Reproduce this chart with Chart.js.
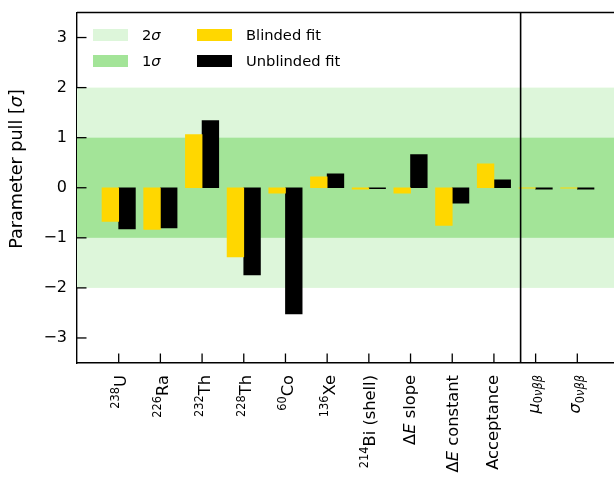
<!DOCTYPE html>
<html>
<head>
<meta charset="utf-8">
<script src="https://cdn.jsdelivr.net/npm/chart.js@4.4.0/dist/chart.umd.min.js"></script>
<style>
  html, body { margin: 0; padding: 0; background: #fff; }
  #wrap { width: 614px; height: 477px; }
</style>
</head>
<body>
<div id="wrap"><canvas id="pulls" width="614" height="477"></canvas></div>
<script>
// Метки параметров по оси X: список кусочков [текст, стиль]
// n - обычный, i - курсив, sup - верхний индекс, sub / subi - нижний индекс (subi - курсивом)
const categoryLabels = [
    [['238', 'sup'], ['U', 'n']],
    [['226', 'sup'], ['Ra', 'n']],
    [['232', 'sup'], ['Th', 'n']],
    [['228', 'sup'], ['Th', 'n']],
    [['60', 'sup'], ['Co', 'n']],
    [['136', 'sup'], ['Xe', 'n']],
    [['214', 'sup'], ['Bi (shell)', 'n']],
    [['Δ', 'n'], ['E', 'i'], [' slope', 'n']],
    [['Δ', 'n'], ['E', 'i'], [' constant', 'n']],
    [['Acceptance', 'n']],
    [['μ', 'i'], ['0', 'sub'], ['νββ', 'subi']],
    [['σ', 'i'], ['0', 'sub'], ['νββ', 'subi']]
];

// Значения пулов (в единицах сигма)
const blindedPulls = [-0.67, -0.83, 1.06, -1.38, -0.11, 0.22, -0.03, -0.11, -0.75, 0.48, -0.01, -0.01];
const unblindedPulls = [-0.82, -0.80, 1.34, -1.74, -2.52, 0.28, -0.02, 0.66, -0.31, 0.16, -0.03, -0.03];

// Отметки оси Y
const yTicks = [-3, -2, -1, 0, 1, 2, 3];

// Полосы 2σ и 1σ
const sigmaBands = [2, 1];
const bandColors = ['#ddf6da', '#a3e498'];

// Вертикальная линия-разделитель (между систематикой и сигналом)
const separatorAt = 9.64;

const FONT = '"DejaVu Sans"';

function segSize(style, size) {
    return (style === 'sup' || style === 'sub' || style === 'subi') ? size * 0.7 : size;
}

function segFont(style, size) {
    const italic = (style === 'i' || style === 'subi') ? 'italic ' : '';
    return italic + segSize(style, size) + 'px ' + FONT;
}

function segShift(style, size) {
    if (style === 'sup') return size * 0.42;
    if (style === 'sub' || style === 'subi') return -size * 0.2;
    return 0;
}

function richWidth(ctx, parts, size) {
    let w = 0;
    parts.forEach(p => {
        ctx.font = segFont(p[1], size);
        w += ctx.measureText(p[0]).width;
    });
    return w;
}

// Рисует текст с индексами, базовая линия y, начало x
function drawRich(ctx, parts, size, x, y) {
    let cx = x;
    ctx.textAlign = 'left';
    ctx.textBaseline = 'alphabetic';
    parts.forEach(p => {
        ctx.font = segFont(p[1], size);
        ctx.fillText(p[0], cx, y - segShift(p[1], size));
        cx += ctx.measureText(p[0]).width;
    });
}

// Вертикальные размеры подписи (для центрирования под отметкой)
function richExtent(parts, size) {
    let top = 0;
    let bottom = 0;
    parts.forEach(p => {
        const s = segSize(p[1], size);
        const sh = segShift(p[1], size);
        top = Math.max(top, sh + 0.74 * s);
        const desc = /[pgyq()\[\]βμ]/.test(p[0]) ? 0.23 * s : 0;
        bottom = Math.max(bottom, -sh + desc);
    });
    return {top, bottom};
}

const pullsPlugin = {
    id: 'pulls',
    beforeDatasetsDraw(chart) {
        const {ctx, chartArea} = chart;
        const yScale = chart.scales.y;
        ctx.save();
        sigmaBands.forEach((b, i) => {
            const y1 = yScale.getPixelForValue(b);
            const y2 = yScale.getPixelForValue(-b);
            ctx.fillStyle = bandColors[i];
            ctx.fillRect(chartArea.left, y1, chartArea.right - chartArea.left, y2 - y1);
        });
        ctx.restore();
    },
    afterDraw(chart) {
        const {ctx, chartArea} = chart;
        const xScale = chart.scales.x;
        const yScale = chart.scales.y;
        ctx.save();
        ctx.strokeStyle = '#000';
        ctx.fillStyle = '#000';

        // разделитель
        const sx = xScale.getPixelForValue(separatorAt);
        ctx.lineWidth = 1.6;
        ctx.beginPath();
        ctx.moveTo(sx, chartArea.top);
        ctx.lineTo(sx, chartArea.bottom);
        ctx.stroke();

        // верхняя рамка
        ctx.lineWidth = 1.3;
        ctx.beginPath();
        ctx.moveTo(chartArea.left, chartArea.top);
        ctx.lineTo(chartArea.right, chartArea.top);
        ctx.stroke();

        // отметки внутрь
        ctx.lineWidth = 1.3;
        yTicks.forEach(v => {
            const y = yScale.getPixelForValue(v);
            ctx.beginPath();
            ctx.moveTo(chartArea.left, y);
            ctx.lineTo(chartArea.left + 9.5, y);
            ctx.stroke();
        });
        categoryLabels.forEach((lbl, i) => {
            const x = xScale.getPixelForValue(i);
            ctx.beginPath();
            ctx.moveTo(x, chartArea.bottom);
            ctx.lineTo(x, chartArea.bottom - 9.5);
            ctx.stroke();
        });

        // подписи оси X (повернуты на 90°)
        const size = 16.3;
        categoryLabels.forEach((lbl, i) => {
            const x = xScale.getPixelForValue(i);
            const w = richWidth(ctx, lbl, size);
            const ext = richExtent(lbl, size);
            const b = (ext.top - ext.bottom) / 2;
            ctx.save();
            ctx.translate(x, chartArea.bottom + 12);
            ctx.rotate(-Math.PI / 2);
            drawRich(ctx, lbl, size, -w, b);
            ctx.restore();
        });

        // подпись оси Y
        const yLabel = [['Parameter pull [', 'n'], ['σ', 'i'], [']', 'n']];
        const yw = richWidth(ctx, yLabel, 17.6);
        ctx.save();
        ctx.translate(21.5, 169);
        ctx.rotate(-Math.PI / 2);
        drawRich(ctx, yLabel, 17.6, -yw / 2, 0);
        ctx.restore();

        // легенда
        const legendItems = [
            {color: bandColors[0], parts: [['2', 'n'], ['σ', 'i']], x: 93, y: 29},
            {color: bandColors[1], parts: [['1', 'n'], ['σ', 'i']], x: 93, y: 55},
            {color: '#ffd700', parts: [['Blinded fit', 'n']], x: 197, y: 29},
            {color: '#000000', parts: [['Unblinded fit', 'n']], x: 197, y: 55}
        ];
        legendItems.forEach(it => {
            ctx.fillStyle = it.color;
            ctx.fillRect(it.x, it.y, 35, 12);
            ctx.fillStyle = '#000';
            drawRich(ctx, it.parts, 14.7, it.x + 49, it.y + 11.3);
        });

        ctx.restore();
    }
};

const config = {
    type: 'bar',
    data: {
        datasets: [
            {
                label: 'Blinded fit',
                data: blindedPulls.map((v, i) => ({x: i - 0.2, y: v})),
                backgroundColor: '#ffd700',
                borderWidth: 0,
                barThickness: 16.7,
                grouped: false
            },
            {
                label: 'Unblinded fit',
                data: unblindedPulls.map((v, i) => ({x: i + 0.2, y: v})),
                backgroundColor: '#000000',
                borderWidth: 0,
                barThickness: 16.7,
                grouped: false
            }
        ]
    },
    options: {
        responsive: false,
        animation: false,
        layout: {
            padding: {top: 12.5, left: 0, right: 0, bottom: 0}
        },
        plugins: {
            legend: {display: false},
            tooltip: {enabled: false}
        },
        scales: {
            x: {
                type: 'linear',
                min: -1,
                max: 11.88,
                offset: false,
                ticks: {display: false},
                grid: {display: false, drawTicks: false},
                border: {display: true, color: '#000', width: 1.4},
                afterFit: s => {
                    s.height = 114;
                    s.paddingLeft = 0;
                    s.paddingRight = 0;
                }
            },
            y: {
                min: -3.5,
                max: 3.5,
                afterBuildTicks: s => { s.ticks = yTicks.map(v => ({value: v})); },
                ticks: {
                    color: '#000',
                    padding: 10,
                    font: {family: 'DejaVu Sans', size: 16},
                    callback: v => (v < 0 ? '\u2212' + Math.abs(v) : String(v))
                },
                grid: {display: false, drawTicks: false},
                border: {display: true, color: '#000', width: 1.4},
                afterFit: s => {
                    s.width = 77;
                    s.paddingTop = 0;
                    s.paddingBottom = 0;
                }
            }
        }
    },
    plugins: [pullsPlugin]
};

const pullsChart = new Chart(document.getElementById('pulls'), config);
</script>
</body>
</html>
